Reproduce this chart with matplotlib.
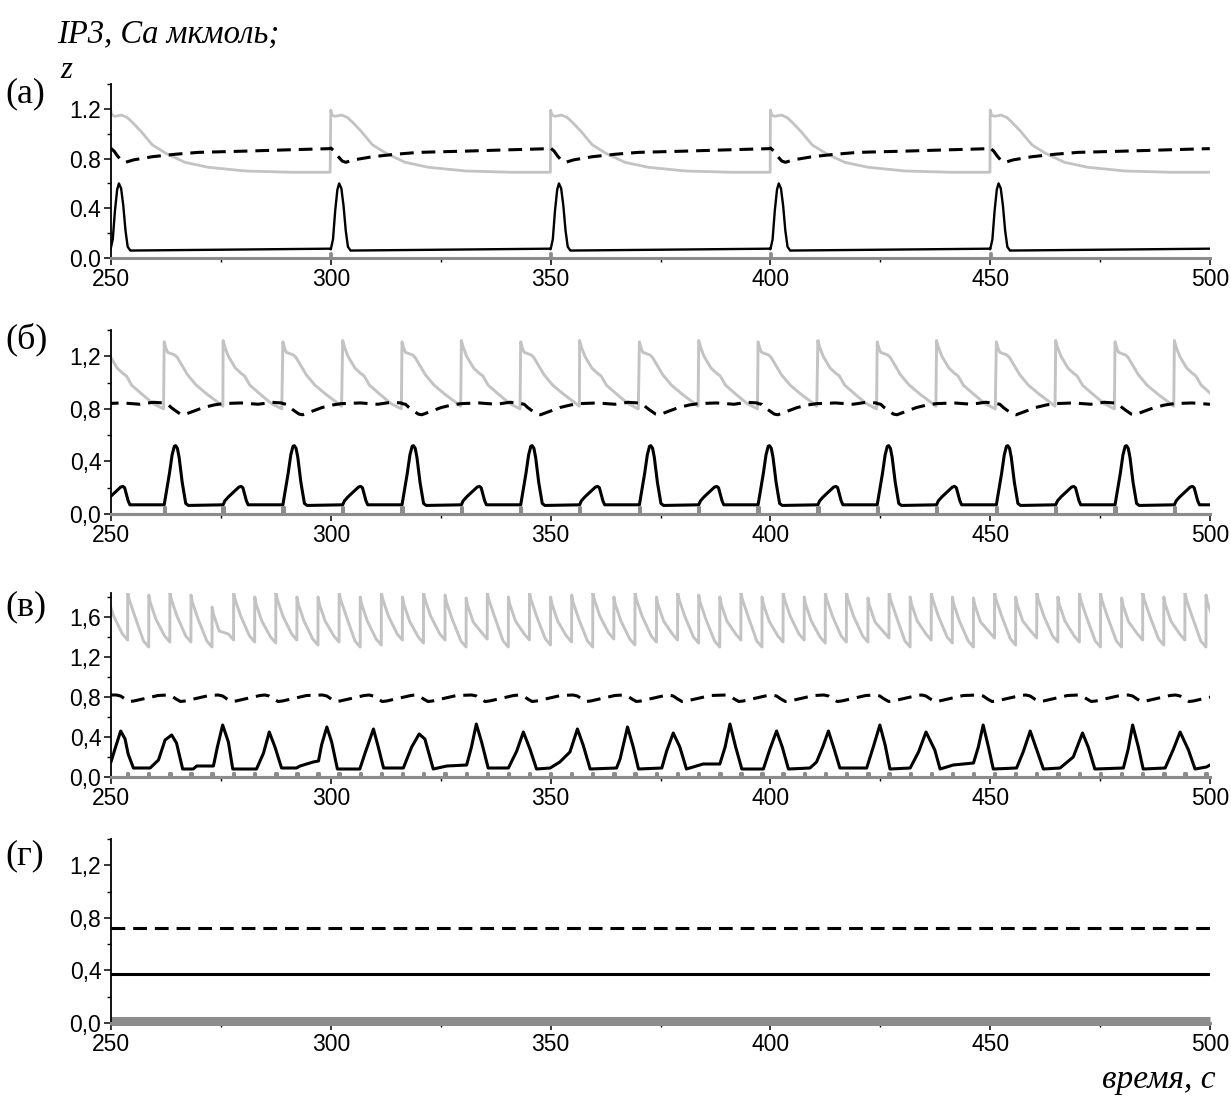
import numpy as np
import matplotlib
matplotlib.use("Agg")
import matplotlib.pyplot as plt
from matplotlib.ticker import MultipleLocator, FuncFormatter

# ---------------- panel (а): IP3 pulse every 50 s ----------------
pulses_a = [249.9, 300.0, 350.0, 400.0, 450.0]
# one cycle, offsets (s) from the pulse
ip3_a_off = [0, 0.3, 1.0, 2.5, 3.8, 5.0, 6.9, 9.5, 12.7, 16.9, 22.2, 30.7, 41.0, 49.95]
ip3_a_val = [1.19, 1.15, 1.14, 1.15, 1.13, 1.09, 1.02, 0.91, 0.84, 0.77, 0.73, 0.70, 0.69, 0.69]
ca_a_off = [0, 0.5, 1.0, 1.5, 1.9, 2.4, 2.9, 3.4, 3.9, 4.5, 20.0, 49.95]
ca_a_val = [0.07, 0.15, 0.38, 0.55, 0.60, 0.56, 0.42, 0.22, 0.09, 0.06, 0.065, 0.075]
z_a_off = [0, 0.8, 1.6, 2.6, 3.4, 5.3, 7.0, 9.5, 14.8, 20.0, 30.7, 40.0, 49.95]
z_a_val = [0.885, 0.86, 0.82, 0.78, 0.77, 0.79, 0.80, 0.815, 0.835, 0.85, 0.86, 0.87, 0.88]

# ---------------- panel (б): pulse every ~13.5 s, Ca alternates small / big ----------------
pulses_b = [248.6, 262.1, 275.5, 289.1, 302.7, 316.2, 329.7, 343.2, 356.6, 370.2,
            383.7, 397.2, 410.8, 424.3, 437.8, 451.4, 464.9, 478.4, 491.9]
kinds_b = "ABABABABABABABABABA"   # A: small Ca rise, B: full Ca spike
ip3_b_off = {"A": [0, 0.4, 1.2, 2.8, 4.1, 4.9, 6.1, 8.5, 11.0, 13.35],
             "B": [0, 0.4, 0.8, 2.4, 3.0, 3.7, 5.3, 7.3, 9.8, 12.2, 13.35]}
ip3_b_val = {"A": [1.32, 1.27, 1.20, 1.11, 1.07, 1.05, 0.98, 0.91, 0.84, 0.80],
             "B": [1.31, 1.26, 1.23, 1.21, 1.19, 1.15, 1.06, 0.98, 0.91, 0.85, 0.82]}
ca_b_off = {"A": [0, 0.4, 1.2, 2.8, 3.6, 4.1, 4.5, 5.3, 5.7, 13.35],
            "B": [0, 0.4, 1.2, 1.8, 2.3, 2.6, 3.0, 3.4, 4.1, 4.9, 5.5, 13.35]}
ca_b_val = {"A": [0.07, 0.10, 0.13, 0.18, 0.205, 0.21, 0.20, 0.10, 0.07, 0.07],
            "B": [0.07, 0.15, 0.31, 0.45, 0.515, 0.52, 0.50, 0.43, 0.24, 0.08, 0.065, 0.07]}
z_b_off = {"A": [0, 4.0, 8.0, 11.0, 13.35],
           "B": [0, 0.8, 1.6, 2.4, 3.7, 4.5, 6.5, 8.9, 11.4, 13.35]}
z_b_val = {"A": [0.84, 0.845, 0.835, 0.85, 0.845],
           "B": [0.84, 0.835, 0.81, 0.79, 0.76, 0.755, 0.78, 0.81, 0.83, 0.84]}

# ---------------- panel (в): pulse every ~4.8 s ----------------
pulses_c = [249.0, 253.8, 258.6, 263.4, 268.2, 273.0, 277.9, 282.7, 287.5, 292.3,
            297.1, 301.9, 306.7, 311.5, 316.3, 321.1, 326.0, 330.8, 335.6, 340.4,
            345.2, 350.0, 354.8, 359.6, 364.4, 369.2, 374.1, 378.9, 383.7, 388.5,
            393.3, 398.1, 402.9, 407.7, 412.5, 417.3, 422.2, 427.0, 431.8, 436.6,
            441.4, 446.2, 451.0, 455.8, 460.6, 465.4, 470.3, 475.1, 479.9, 484.7,
            489.5, 494.3, 499.1]
ip3_c_top = [1.85,
             1.85, 1.82, 1.85, 1.82, 1.70, 1.85, 1.80, 1.85, 1.80, 1.80, 1.85, 1.80,
             1.85, 1.80, 1.85, 1.82, 1.79,
             1.85, 1.80, 1.85, 1.80, 1.82, 1.85, 1.80, 1.85, 1.80, 1.85, 1.82, 1.80,
             1.85, 1.80, 1.85, 1.80, 1.85,
             1.85, 1.79, 1.85, 1.80, 1.85, 1.80, 1.79, 1.85, 1.80, 1.85, 1.80, 1.84,
             1.84, 1.79, 1.85, 1.80, 1.85, 1.82]
ip3_c_low = [1.37, 1.30, 1.35, 1.35, 1.30, 1.37, 1.35, 1.34, 1.37, 1.32, 1.35, 1.30,
             1.32, 1.37, 1.34, 1.37, 1.30,
             1.38, 1.30, 1.37, 1.32, 1.35, 1.30, 1.38, 1.32, 1.35, 1.37, 1.34, 1.30,
             1.37, 1.30, 1.35, 1.37, 1.34,
             1.35, 1.35, 1.39, 1.30, 1.37, 1.34, 1.30, 1.39, 1.32, 1.39, 1.35, 1.35,
             1.30, 1.30, 1.37, 1.32, 1.37, 1.30, 1.35]
# shape of one IP3 tooth: offsets from pulse, drop from the top
tooth_off = [0, 0.3, 1.6]
tooth_drop = [0, 0.07, 0.24]

ca_c_t = [250.0, 250.9, 252.2, 253.2, 253.9, 255.1, 258.9, 260.8, 262.3, 263.8, 264.9, 266.3,
          268.7, 269.5, 273.3, 274.2, 275.4, 276.7, 277.7, 283.1, 284.7, 286.0, 287.3, 288.8,
          292.2, 293.0, 296.0, 297.2, 297.9, 299.1, 300.2, 301.5, 306.6, 307.8, 309.7, 310.8,
          312.0, 316.5, 318.4, 320.1, 321.4, 323.3, 326.4, 330.9, 332.0, 333.1, 334.3, 335.8,
          340.4, 342.3, 343.8, 345.3, 346.8, 349.9, 352.1, 354.4, 356.1, 357.4, 359.0, 365.0,
          365.8, 367.5, 368.8, 370.0, 375.3, 376.4, 377.9, 379.4, 380.9, 384.7, 388.5, 389.7,
          390.8, 392.1, 393.5, 398.4, 399.9, 401.4, 402.7, 404.1, 409.0, 410.5, 411.9, 413.2,
          414.5, 415.8, 421.9, 423.4, 424.9, 426.1, 427.2, 431.8, 433.7, 435.4, 437.4, 438.6,
          441.6, 446.2, 447.3, 448.4, 449.6, 450.7, 456.0, 457.5, 459.1, 460.6, 462.1, 465.9,
          468.9, 471.0, 472.3, 473.8, 480.3, 481.4, 482.4, 483.7, 484.8, 489.8, 491.7, 493.2,
          495.1, 496.6, 499.2, 500.0]
ca_c_v = [0.15, 0.28, 0.46, 0.38, 0.23, 0.09, 0.09, 0.17, 0.37, 0.42, 0.34, 0.08,
          0.08, 0.11, 0.11, 0.30, 0.52, 0.35, 0.08, 0.08, 0.24, 0.45, 0.30, 0.09,
          0.09, 0.11, 0.15, 0.16, 0.32, 0.50, 0.35, 0.08, 0.08, 0.24, 0.48, 0.30,
          0.09, 0.09, 0.30, 0.43, 0.38, 0.08, 0.11, 0.12, 0.30, 0.53, 0.35, 0.09,
          0.09, 0.26, 0.45, 0.28, 0.08, 0.09, 0.15, 0.25, 0.48, 0.32, 0.08, 0.09,
          0.18, 0.50, 0.30, 0.08, 0.09, 0.26, 0.44, 0.30, 0.08, 0.13, 0.13, 0.30,
          0.53, 0.30, 0.08, 0.08, 0.28, 0.46, 0.30, 0.08, 0.09, 0.15, 0.30, 0.46,
          0.28, 0.09, 0.09, 0.30, 0.52, 0.32, 0.08, 0.09, 0.25, 0.45, 0.27, 0.08,
          0.12, 0.14, 0.30, 0.52, 0.30, 0.08, 0.09, 0.25, 0.46, 0.27, 0.08, 0.09,
          0.20, 0.44, 0.30, 0.08, 0.09, 0.28, 0.52, 0.30, 0.08, 0.09, 0.28, 0.45,
          0.27, 0.08, 0.10, 0.12]
ca_c_peaks = [252.2, 263.8, 275.4, 286.0, 299.1, 309.7, 320.1, 333.1, 343.8, 356.1, 367.5,
              377.9, 390.8, 401.4, 413.2, 424.9, 435.4, 448.4, 459.1, 471.0, 482.4, 493.2]
z_c_off = [-1.0, 0, 1.0, 2.0, 3.0, 5.0, 7.0, 8.5]
z_c_val = [0.82, 0.81, 0.78, 0.755, 0.76, 0.78, 0.80, 0.815]

# ---------------- panel (г): steady state ----------------
t_d = [250.0, 500.0]
ca_d = [0.37, 0.37]
z_d = [0.72, 0.72]
stim_d = [0.018, 0.018]

stim_h = {"a": 0.04, "b": 0.05, "c": 0.04}


def tile(starts, offs, vals):
    t, y = [], []
    for s, o, v in zip(starts, offs, vals):
        t.extend(s + np.asarray(o, dtype=float))
        y.extend(v)
    return np.array(t), np.array(y)


def stim_line(pulses, h):
    xs, ys = [250.0], [0.0]
    for p in pulses:
        if 250 < p < 500:
            xs += [p - 0.15, p - 0.15, p + 0.15, p + 0.15]
            ys += [0, h, h, 0]
    xs.append(500.0)
    ys.append(0.0)
    return xs, ys


GRAY = "#c3c3c3"
STIM = "#8c8c8c"
SANS = "Liberation Sans"
SERIF = "Liberation Serif"
DASH = (4.5, 2.6)
TICK_FS = 16.5

W, H = 1231, 1100
fig = plt.figure(figsize=(W / 100, H / 100), dpi=100)

boxes = [(84, 258), (330, 514), (593, 777), (839, 1023)]
ylims = [1.4, 1.4, 1.84, 1.4]
axes = []
for (top, bot), ytop in zip(boxes, ylims):
    ax = fig.add_axes([111 / W, 1 - bot / H, 1099 / W, (bot - top) / H])
    ax.set_xlim(250, 500)
    ax.set_ylim(0, ytop)
    for s in ("top", "right"):
        ax.spines[s].set_visible(False)
    ax.spines["left"].set_linewidth(1.3)
    ax.spines["bottom"].set_color(STIM)
    ax.spines["bottom"].set_linewidth(2.2)
    ax.xaxis.set_major_locator(MultipleLocator(50))
    ax.xaxis.set_minor_locator(MultipleLocator(25))
    ax.yaxis.set_major_locator(MultipleLocator(0.4))
    ax.yaxis.set_minor_locator(MultipleLocator(0.2))
    ax.tick_params(which="major", length=5, width=1.1, direction="out",
                   labelsize=TICK_FS, pad=2)
    ax.tick_params(which="minor", length=3, width=1.0, direction="out")
    axes.append(ax)

axes[0].yaxis.set_major_formatter(FuncFormatter(lambda v, p: f"{v:.1f}"))
for ax in axes[1:]:
    ax.yaxis.set_major_formatter(FuncFormatter(lambda v, p: f"{v:.1f}".replace(".", ",")))
for ax in axes:
    for lab in ax.get_xticklabels() + ax.get_yticklabels():
        lab.set_fontfamily(SANS)

line_kw = dict(solid_joinstyle="round", solid_capstyle="round")

# (а)
ax = axes[0]
n = len(pulses_a)
t, y = tile(pulses_a, [ip3_a_off] * n, [ip3_a_val] * n)
ax.plot(t, y, color=GRAY, lw=2.0)
t, y = tile(pulses_a, [z_a_off] * n, [z_a_val] * n)
ax.plot(t, y, color="black", lw=2.2, dashes=DASH)
t, y = tile(pulses_a, [ca_a_off] * n, [ca_a_val] * n)
ax.plot(t, y, color="black", lw=1.7, **line_kw)
xs, ys = stim_line(pulses_a, stim_h["a"])
ax.plot(xs, ys, color=STIM, lw=2.0, clip_on=False)

# (б)
ax = axes[1]
t, y = tile(pulses_b, [ip3_b_off[k] for k in kinds_b], [ip3_b_val[k] for k in kinds_b])
ax.plot(t, y, color=GRAY, lw=2.1)
t, y = tile(pulses_b, [z_b_off[k] for k in kinds_b], [z_b_val[k] for k in kinds_b])
ax.plot(t, y, color="black", lw=2.2, dashes=DASH)
t, y = tile(pulses_b, [ca_b_off[k] for k in kinds_b], [ca_b_val[k] for k in kinds_b])
ax.plot(t, y, color="black", lw=2.2, **line_kw)
xs, ys = stim_line(pulses_b, stim_h["b"])
ax.plot(xs, ys, color=STIM, lw=2.2, clip_on=False)

# (в)
ax = axes[2]
tt, yy = [], []
for i, p in enumerate(pulses_c):
    nxt = pulses_c[i + 1] if i + 1 < len(pulses_c) else p + 4.8
    top, low = ip3_c_top[i], ip3_c_low[i]
    tt += [p + o for o in tooth_off] + [nxt - 1.2, nxt - 0.02]
    yy += [top - d for d in tooth_drop] + [low + 0.06, low]
ax.plot(tt, yy, color=GRAY, lw=2.1)
t, y = tile(ca_c_peaks, [z_c_off] * len(ca_c_peaks), [z_c_val] * len(ca_c_peaks))
t = np.concatenate([[250.0], t])
y = np.concatenate([[0.82], y])
ax.plot(t, y, color="black", lw=2.2, dashes=DASH)
ax.plot(ca_c_t, ca_c_v, color="black", lw=2.2, **line_kw)
xs, ys = stim_line(pulses_c, stim_h["c"])
ax.plot(xs, ys, color=STIM, lw=2.2, clip_on=False)

# (г)
ax = axes[3]
ax.plot(t_d, z_d, color="black", lw=2.2, dashes=DASH)
ax.plot(t_d, ca_d, color="black", lw=2.2)
ax.plot(t_d, stim_d, color=STIM, lw=6.5, solid_capstyle="butt", clip_on=False)

# texts
fig.text(57 / W, 1 - 43 / H, "IP3, Ca мкмоль;", family=SERIF, style="italic",
         fontsize=23.5, va="baseline", ha="left")
fig.text(60 / W, 1 - 78 / H, "z", family=SERIF, style="italic",
         fontsize=22, va="baseline", ha="left")
for lab, yc in zip(["(а)", "(б)", "(в)", "(г)"], [94, 339, 607, 856]):
    fig.text(5 / W, 1 - yc / H, lab, family=SERIF, fontsize=26, va="center", ha="left")
fig.text(1216 / W, 1 - 1088 / H, "время, с", family=SERIF, style="italic",
         fontsize=24, va="baseline", ha="right")

fig.savefig("out.png", dpi=100)
